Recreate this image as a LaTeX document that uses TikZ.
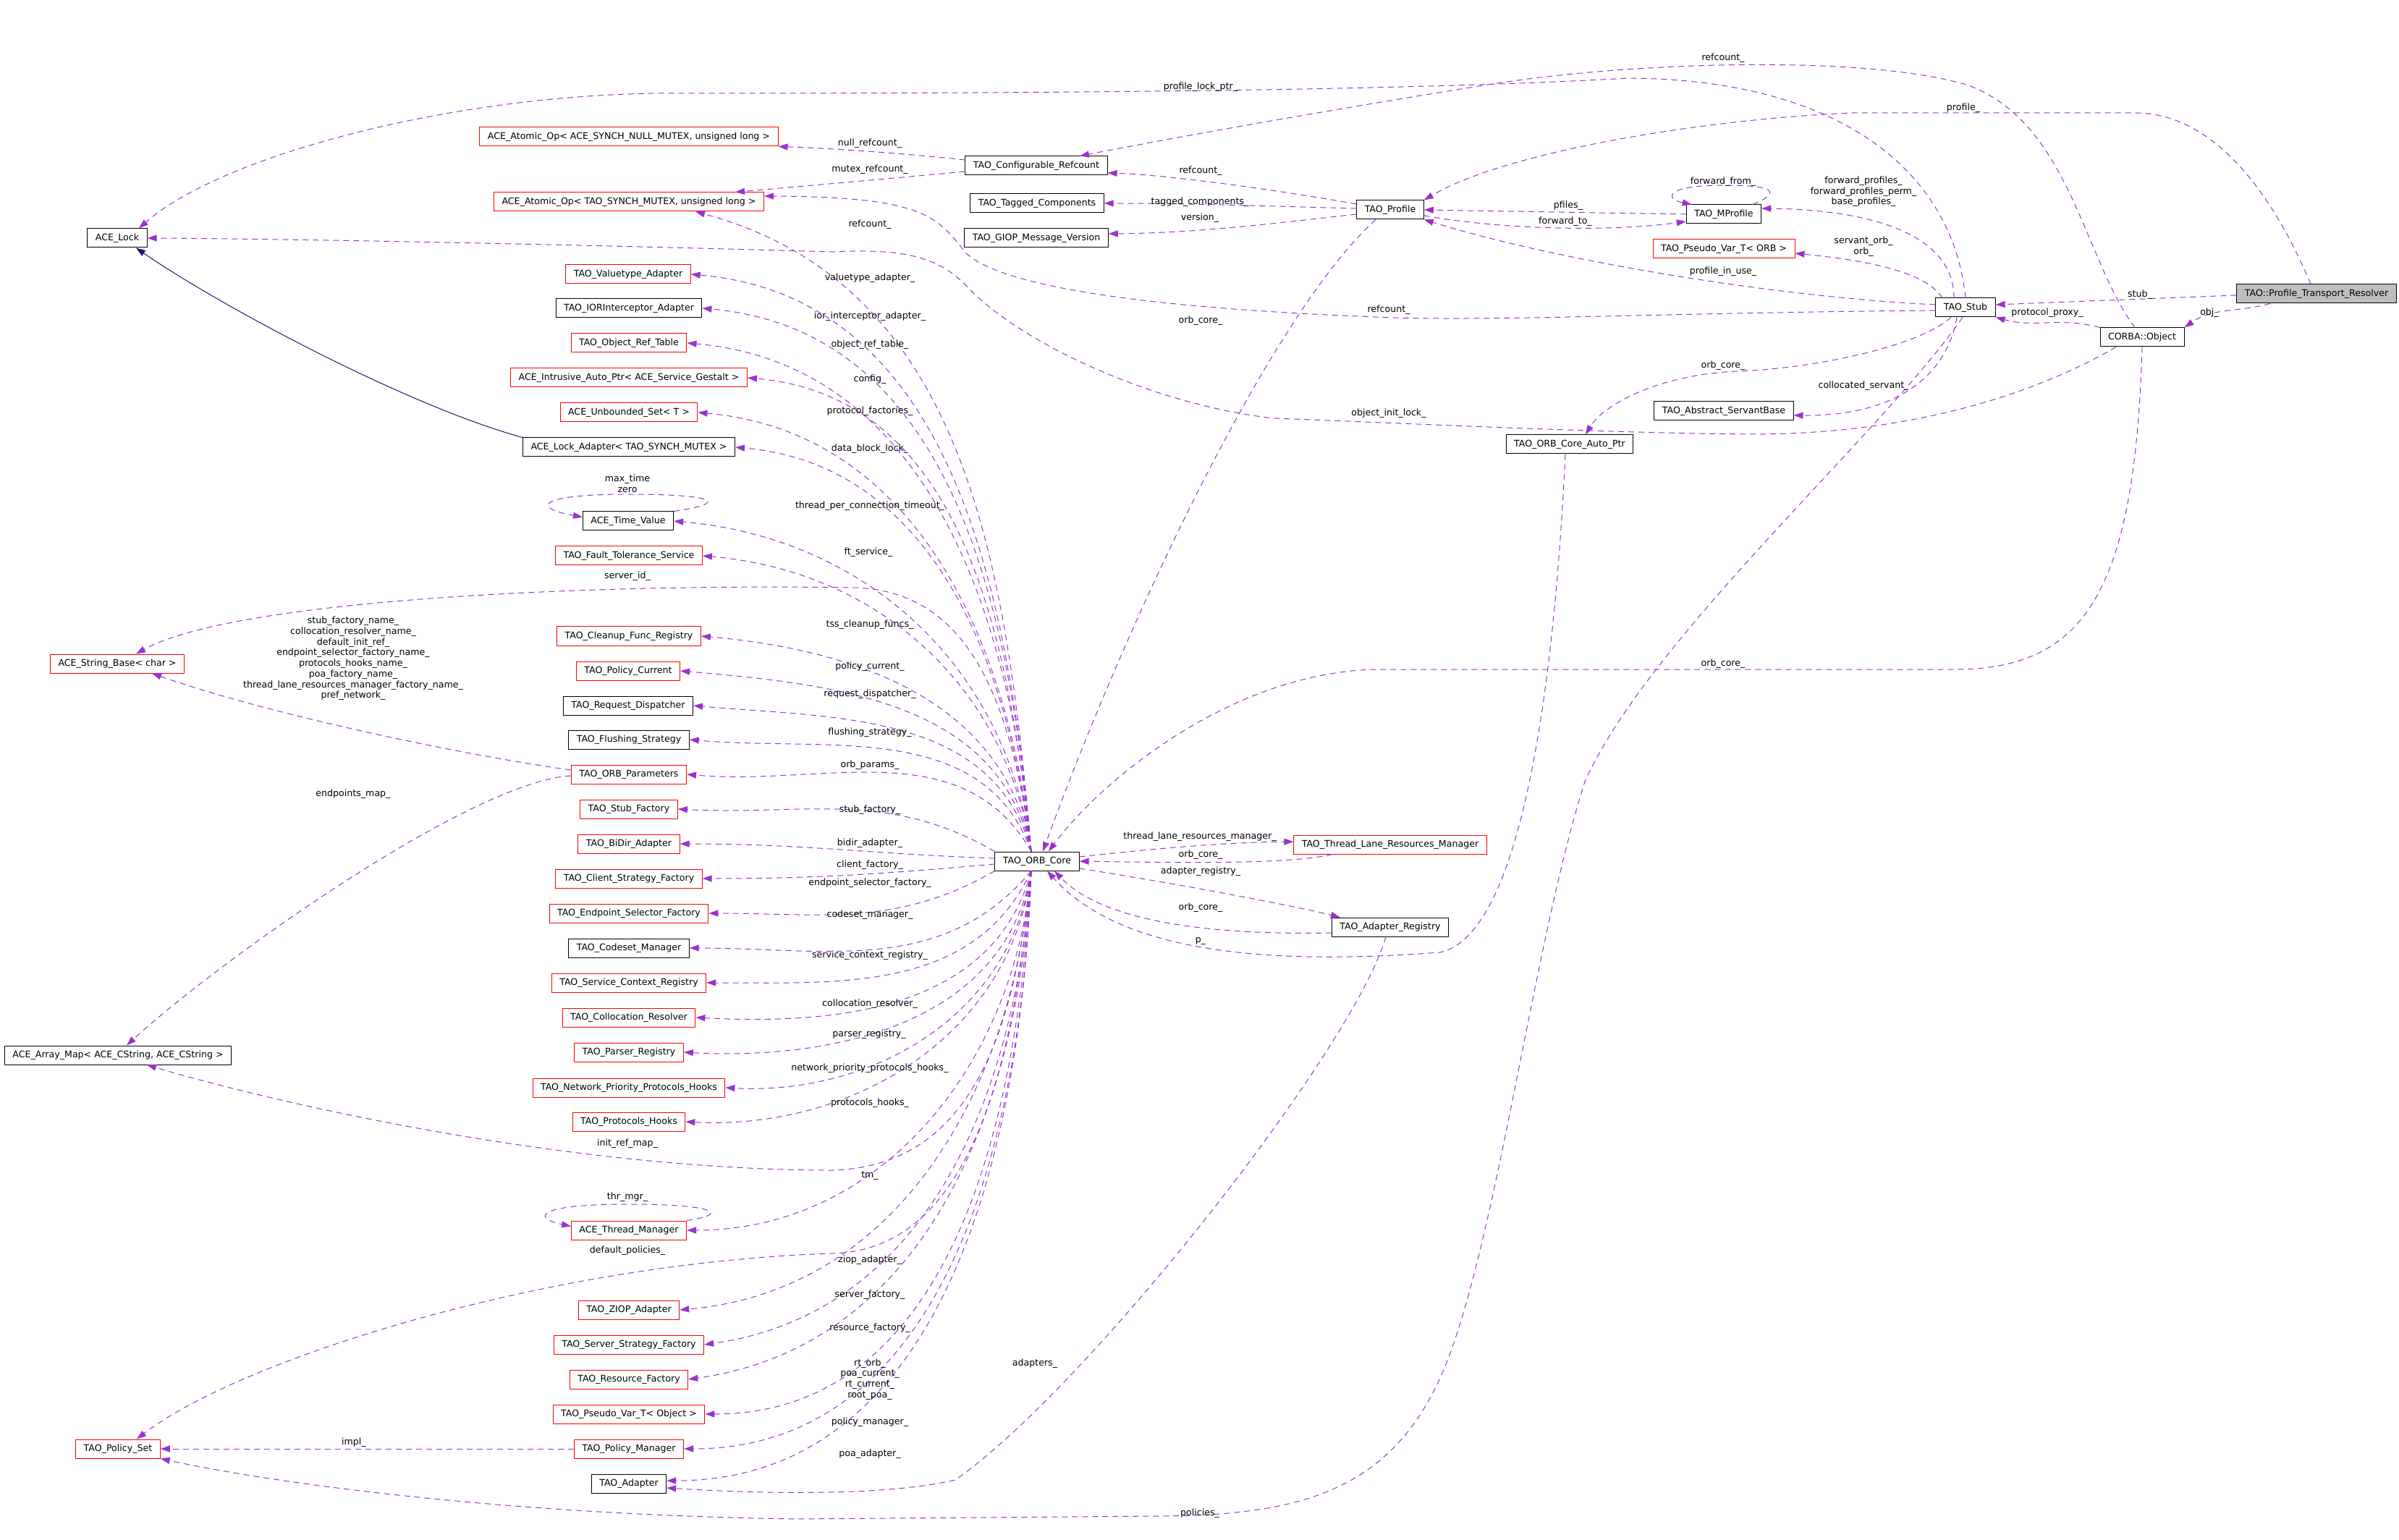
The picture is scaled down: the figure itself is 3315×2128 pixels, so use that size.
\documentclass[tikz,border=0pt]{standalone}
\usepackage{fontspec}
\setmainfont{DejaVu Sans}
\usetikzlibrary{
  arrows.meta
}
\usepackage{xcolor}
\definecolor{edgePurple}{rgb}{0.604,0.196,0.804}
\definecolor{inheritBlue}{rgb}{0.098,0.098,0.439}
\definecolor{boxRed}{rgb}{1,0,0}
\definecolor{mainGray}{rgb}{0.75,0.75,0.75}
\newcommand{\dxfont}{\fontsize{6.3}{7.35}\selectfont}
\newcommand{\dxNode}[4]{\node[#1] (#2) at (#3) {#4};}
\newcommand{\dxLabel}[3]{\node[lbl] (#1) at (#2) {#3};}
\tikzset{
  cls/.style={
    draw=black,
    fill=white,
    line width=0.5pt,
    font=\dxfont,
    inner xsep=5.5pt,
    inner ysep=0pt,
    minimum height=13pt
  },
  clsred/.style={cls, draw=boxRed},
  clsmain/.style={cls, fill=mainGray},
  member/.style={
    draw=edgePurple,
    line width=0.5pt,
    dash pattern=on 4pt off 3pt,
    -{Triangle[length=6.5pt,width=4.5pt,fill=edgePurple]}
  },
  inherit/.style={
    draw=inheritBlue,
    line width=0.5pt,
    -{Triangle[length=6.5pt,width=4.5pt,fill=inheritBlue]}
  },
  lbl/.style={font=\dxfont, inner sep=0pt, align=center}
}

\begin{document}
\begin{tikzpicture}[
    x=0.5pt,
    y=0.5pt
  ]
  \useasboundingbox (0,0) rectangle (3315,-2128);

  % classes, left column
  \dxNode{cls}{lock}{162,-329}{ACE\_Lock}
  \dxNode{clsred}{atomicnull}{869,-189}{ACE\_Atomic\_Op< ACE\_SYNCH\_NULL\_MUTEX, unsigned long >}
  \dxNode{clsred}{atomicmutex}{869,-279}{ACE\_Atomic\_Op< TAO\_SYNCH\_MUTEX, unsigned long >}
  \dxNode{clsred}{valuetype}{868,-379}{TAO\_Valuetype\_Adapter}
  \dxNode{cls}{iorint}{869,-426}{TAO\_IORInterceptor\_Adapter}
  \dxNode{clsred}{objref}{869,-474}{TAO\_Object\_Ref\_Table}
  \dxNode{clsred}{intrusive}{869,-522}{ACE\_Intrusive\_Auto\_Ptr< ACE\_Service\_Gestalt >}
  \dxNode{clsred}{unbounded}{869,-570}{ACE\_Unbounded\_Set< T >}
  \dxNode{cls}{lockadapter}{869,-618}{ACE\_Lock\_Adapter< TAO\_SYNCH\_MUTEX >}
  \dxNode{cls}{timevalue}{868,-720}{ACE\_Time\_Value}
  \dxNode{clsred}{ftservice}{869,-768}{TAO\_Fault\_Tolerance\_Service}
  \dxNode{clsred}{cleanup}{869,-879}{TAO\_Cleanup\_Func\_Registry}
  \dxNode{clsred}{policycur}{868,-927}{TAO\_Policy\_Current}
  \dxNode{cls}{reqdisp}{868,-975}{TAO\_Request\_Dispatcher}
  \dxNode{cls}{flushing}{869,-1022}{TAO\_Flushing\_Strategy}
  \dxNode{clsred}{orbparams}{869,-1070}{TAO\_ORB\_Parameters}
  \dxNode{clsred}{stubfact}{869,-1118}{TAO\_Stub\_Factory}
  \dxNode{clsred}{bidir}{869,-1166}{TAO\_BiDir\_Adapter}
  \dxNode{clsred}{clientfact}{869,-1214}{TAO\_Client\_Strategy\_Factory}
  \dxNode{clsred}{endpointfact}{869,-1262}{TAO\_Endpoint\_Selector\_Factory}
  \dxNode{cls}{codeset}{869,-1310}{TAO\_Codeset\_Manager}
  \dxNode{clsred}{svcctx}{869,-1358}{TAO\_Service\_Context\_Registry}
  \dxNode{clsred}{colloc}{869,-1406}{TAO\_Collocation\_Resolver}
  \dxNode{clsred}{parser}{869,-1454}{TAO\_Parser\_Registry}
  \dxNode{clsred}{netprio}{869,-1503}{TAO\_Network\_Priority\_Protocols\_Hooks}
  \dxNode{clsred}{protohooks}{869,-1550}{TAO\_Protocols\_Hooks}
  \dxNode{clsred}{thrmgr}{869,-1700}{ACE\_Thread\_Manager}
  \dxNode{clsred}{ziop}{869,-1810}{TAO\_ZIOP\_Adapter}
  \dxNode{clsred}{serverfact}{869,-1858}{TAO\_Server\_Strategy\_Factory}
  \dxNode{clsred}{resfact}{869,-1906}{TAO\_Resource\_Factory}
  \dxNode{clsred}{pseudoobj}{869,-1954}{TAO\_Pseudo\_Var\_T< Object >}
  \dxNode{clsred}{policymgr}{869,-2002}{TAO\_Policy\_Manager}
  \dxNode{cls}{adapter}{869,-2050}{TAO\_Adapter}
  \dxNode{clsred}{strbase}{162,-917}{ACE\_String\_Base< char >}
  \dxNode{cls}{arraymap}{163,-1458}{ACE\_Array\_Map< ACE\_CString, ACE\_CString >}
  \dxNode{clsred}{policyset}{163,-2002}{TAO\_Policy\_Set}

  % classes, middle and right
  \dxNode{cls}{confref}{1432,-229}{TAO\_Configurable\_Refcount}
  \dxNode{cls}{tagged}{1433,-281}{TAO\_Tagged\_Components}
  \dxNode{cls}{giop}{1432,-329}{TAO\_GIOP\_Message\_Version}
  \dxNode{cls}{profile}{1921,-290}{TAO\_Profile}
  \dxNode{cls}{mprofile}{2382,-296}{TAO\_MProfile}
  \dxNode{clsred}{pseudoorb}{2382,-344}{TAO\_Pseudo\_Var\_T< ORB >}
  \dxNode{cls}{stub}{2716,-425}{TAO\_Stub}
  \dxNode{clsmain}{resolver}{3201,-406}{TAO::Profile\_Transport\_Resolver}
  \dxNode{cls}{object}{2960,-466}{CORBA::Object}
  \dxNode{cls}{servant}{2382,-568}{TAO\_Abstract\_ServantBase}
  \dxNode{cls}{autoptr}{2169,-614}{TAO\_ORB\_Core\_Auto\_Ptr}
  \dxNode{cls}{core}{1433,-1190}{TAO\_ORB\_Core}
  \dxNode{clsred}{tlrm}{1921,-1167}{TAO\_Thread\_Lane\_Resources\_Manager}
  \dxNode{cls}{adreg}{1921,-1281}{TAO\_Adapter\_Registry}

  % ORB core members, upper fan
  \foreach \t/\o in {valuetype/95, iorint/95, objref/95, intrusive/96,
      unbounded/96, lockadapter/97, timevalue/98, ftservice/99, cleanup/100,
      policycur/102, reqdisp/105, flushing/110, orbparams/120}
    \draw[member] ([xshift=-4pt]core.north) to[out=\o,in=-5] (\t.east);
  \draw[member] ([xshift=-4pt]core.north) to[out=95,in=-15] ([xshift=46pt]atomicmutex.south);
  \draw[member] (core.north west) to[out=150,in=-3] (stubfact.east);
  \draw[member] ([yshift=2pt]core.west) to[out=178,in=0] (bidir.east);
  \draw[member] ([yshift=-2pt]core.west) to[out=185,in=0] (clientfact.east);
  \draw[member] (core.south west) to[out=210,in=0] (endpointfact.east);
  \draw[member] ([xshift=-4pt]core.north) .. controls (1395,-950) and (1330,-816) .. (1180,-812)
    .. controls (800,-806) and (320,-830) .. ([xshift=13pt]strbase.north);

  % ORB core members, lower fan
  \foreach \t/\o/\i in {codeset/-130/0, svcctx/-115/0, colloc/-105/-3,
      parser/-100/-3, netprio/-98/-3, protohooks/-97/-3, thrmgr/-95/0,
      ziop/-95/5, serverfact/-94/8, resfact/-93/8, pseudoobj/-93/0,
      policymgr/-92/0}
    \draw[member] ([xshift=-4pt]core.south) to[out=\o,in=\i] (\t.east);
  \draw[member] ([xshift=-4pt]core.south) to[out=-92,in=0] ([yshift=2pt]adapter.east);
  \draw[member] ([xshift=-4pt]core.south) .. controls (1400,-1450) and (1330,-1612) .. (1150,-1617)
    .. controls (800,-1617) and (400,-1530) .. ([xshift=20pt]arraymap.south);
  \draw[member] ([xshift=-4pt]core.south) .. controls (1400,-1500) and (1330,-1728) .. (1150,-1732)
    .. controls (750,-1745) and (330,-1880) .. ([xshift=13pt]policyset.north);

  % self references
  \draw[member] (timevalue.north east) .. controls (1010,-695) and (990,-683) .. (868,-683)
    .. controls (740,-683) and (735,-702) .. ([yshift=-4pt]timevalue.north west);
  \draw[member] (thrmgr.north east) .. controls (1010,-1678) and (990,-1664) .. (868,-1664)
    .. controls (740,-1664) and (735,-1683) .. ([yshift=-4pt]thrmgr.north west);
  \draw[member] ([xshift=-6pt]mprofile.north east) .. controls (2470,-262) and (2440,-256) .. (2381,-256)
    .. controls (2300,-256) and (2300,-275) .. ([xshift=4pt]mprofile.north west);

  % left side
  \draw[inherit] (lockadapter.north west) .. controls (560,-560) and (300,-420) .. ([xshift=13pt]lock.south);
  \draw[member] ([yshift=3pt]orbparams.west) .. controls (650,-1045) and (380,-990) .. ([xshift=24pt]strbase.south);
  \draw[member] ([yshift=-1pt]orbparams.west) .. controls (650,-1080) and (300,-1330) .. ([xshift=6pt]arraymap.north);
  \draw[member] (policymgr.west) -- (policyset.east);
  \draw[member] ([yshift=4pt]confref.west) .. controls (1250,-212) and (1150,-205) .. (atomicnull.south east);
  \draw[member] ([yshift=-4pt]confref.west) .. controls (1250,-245) and (1100,-258) .. ([xshift=-20pt]atomicmutex.north east);

  % profiles
  \draw[member] ([yshift=4pt]profile.west) .. controls (1780,-265) and (1620,-242) .. ([yshift=-5pt]confref.east);
  \draw[member] ([yshift=1pt]profile.west) .. controls (1750,-285) and (1650,-281) .. (tagged.east);
  \draw[member] ([yshift=-3pt]profile.west) .. controls (1750,-310) and (1650,-322) .. ([yshift=3pt]giop.east);
  \draw[member] (mprofile.west) -- (profile.east);
  \draw[member] ([yshift=-4pt]profile.east) .. controls (2080,-318) and (2230,-320) .. ([yshift=-5pt]mprofile.west);
  \draw[member] ([xshift=-10pt]profile.south) .. controls (1760,-430) and (1560,-850) .. ([xshift=4pt]core.north);

  % stub
  \draw[member] (stub.north) .. controls (2700,-250) and (2560,-110) .. (2250,-108)
    .. controls (1900,-128) and (1300,-129) .. (900,-129)
    .. controls (600,-135) and (300,-220) .. ([xshift=15pt]lock.north);
  \draw[member] ([xshift=-8pt]stub.north) .. controls (2700,-330) and (2600,-290) .. ([yshift=4pt]mprofile.east);
  \draw[member] ([xshift=-16pt]stub.north) .. controls (2660,-375) and (2580,-360) .. ([yshift=-3pt]pseudoorb.east);
  \draw[member] ([yshift=2pt]stub.west) .. controls (2450,-410) and (2150,-360) .. (profile.south east);
  \draw[member] ([yshift=-2pt]stub.west) .. controls (2300,-432) and (2050,-445) .. (1900,-438)
    .. controls (1700,-430) and (1400,-410) .. (1335,-350)
    .. controls (1295,-300) and (1280,-272) .. ([yshift=4pt]atomicmutex.east);
  \draw[member] ([xshift=-10pt]stub.south) .. controls (2650,-480) and (2500,-510) .. (2400,-513)
    .. controls (2290,-518) and (2215,-560) .. ([xshift=11pt]autoptr.north);
  \draw[member] ([xshift=-6pt]stub.south) .. controls (2690,-520) and (2620,-575) .. ([yshift=-3pt]servant.east);
  \draw[member] ([xshift=-2pt]stub.south) .. controls (2600,-600) and (2280,-880) .. (2190,-1080)
    .. controls (2120,-1300) and (2070,-1700) .. (2000,-1880)
    .. controls (1930,-2060) and (1800,-2094) .. (1600,-2095) -- (1100,-2099)
    .. controls (700,-2093) and (380,-2050) .. (policyset.south east);

  % resolver and object
  \draw[member] ([xshift=-4pt]resolver.north) .. controls (3150,-290) and (3070,-156) .. (2950,-156) -- (2560,-156)
    .. controls (2350,-165) and (2080,-210) .. (profile.north east);
  \draw[member] ([yshift=-1pt]resolver.west) -- ([yshift=2pt]stub.east);
  \draw[member] ([xshift=-32pt]resolver.south) to[out=195,in=35] (object.north east);
  \draw[member] (object.north west) to[out=165,in=-15] (stub.south east);
  \draw[member] ([xshift=-5pt]object.north) .. controls (2880,-360) and (2860,-170) .. (2720,-118)
    .. controls (2580,-75) and (2250,-85) .. (2050,-118)
    .. controls (1850,-150) and (1650,-185) .. ([xshift=30pt]confref.north);
  \draw[member] ([xshift=-18pt]object.south) .. controls (2820,-540) and (2650,-600) .. (2420,-600)
    .. controls (2200,-598) and (1950,-585) .. (1760,-578)
    .. controls (1600,-560) and (1420,-480) .. (1340,-400)
    .. controls (1300,-355) and (1250,-343) .. (1150,-348)
    .. controls (800,-338) and (400,-330) .. (lock.east);
  \draw[member] (object.south) .. controls (2950,-820) and (2880,-925) .. (2700,-925) -- (1900,-925)
    .. controls (1700,-930) and (1520,-1080) .. ([xshift=8pt]core.north);

  % around the ORB core
  \draw[member] ([yshift=3pt]core.east) .. controls (1620,-1170) and (1700,-1164) .. ([yshift=2pt]tlrm.west);
  \draw[member] ([xshift=-40pt]tlrm.south) .. controls (1780,-1195) and (1620,-1192) .. (core.east);
  \draw[member] ([yshift=-5pt]core.east) .. controls (1620,-1220) and (1780,-1250) .. ([xshift=6pt]adreg.north west);
  \draw[member] ([yshift=-4pt]adreg.west) .. controls (1700,-1292) and (1530,-1280) .. ([xshift=12pt]core.south);
  \draw[member] ([xshift=-3pt]autoptr.south) .. controls (2150,-900) and (2110,-1290) .. (1990,-1316)
    .. controls (1800,-1330) and (1560,-1330) .. ([xshift=7pt]core.south);
  \draw[member] ([xshift=-3pt]adreg.south) .. controls (1870,-1450) and (1500,-1920) .. (1320,-2045)
    .. controls (1220,-2068) and (1050,-2064) .. ([yshift=-3pt]adapter.east);

  % labels
  \dxLabel{lProfileLock}{1659,-120}{profile\_lock\_ptr\_}
  \dxLabel{lRefObject}{2381,-80}{refcount\_}
  \dxLabel{lNullRef}{1202,-198}{null\_refcount\_}
  \dxLabel{lMutexRef}{1202,-234}{mutex\_refcount\_}
  \dxLabel{lRefCore}{1202,-310}{refcount\_}
  \dxLabel{lRefProfile}{1659,-236}{refcount\_}
  \dxLabel{lTagged}{1658,-279}{tagged\_components\_}
  \dxLabel{lVersion}{1658,-301}{version\_}
  \dxLabel{lProfile}{2713,-149}{profile\_}
  \dxLabel{lFwdFrom}{2381,-251}{forward\_from\_}
  \dxLabel{lPfiles}{2167,-284}{pfiles\_}
  \dxLabel{lFwdTo}{2163,-306}{forward\_to\_}
  \dxLabel{lFwdProfiles}{2575,-265}{forward\_profiles\_\\forward\_profiles\_perm\_\\base\_profiles\_}
  \dxLabel{lServantOrb}{2575,-341}{servant\_orb\_\\orb\_}
  \dxLabel{lInUse}{2381,-375}{profile\_in\_use\_}
  \dxLabel{lRefStub}{1919,-428}{refcount\_}
  \dxLabel{lCoreProfile}{1659,-443}{orb\_core\_}
  \dxLabel{lStub}{2957,-407}{stub\_}
  \dxLabel{lObj}{3053,-432}{obj\_}
  \dxLabel{lProxy}{2829,-432}{protocol\_proxy\_}
  \dxLabel{lCoreStub}{2381,-505}{orb\_core\_}
  \dxLabel{lServant}{2575,-533}{collocated\_servant\_}
  \dxLabel{lInitLock}{1919,-571}{object\_init\_lock\_}
  \dxLabel{lCoreObject}{2381,-917}{orb\_core\_}
  \dxLabel{lValuetype}{1202,-384}{valuetype\_adapter\_}
  \dxLabel{lIor}{1202,-437}{ior\_interceptor\_adapter\_}
  \dxLabel{lObjRef}{1202,-476}{object\_ref\_table\_}
  \dxLabel{lConfig}{1202,-524}{config\_}
  \dxLabel{lProtoFact}{1202,-568}{protocol\_factories\_}
  \dxLabel{lDataLock}{1202,-620}{data\_block\_lock\_}
  \dxLabel{lTimeout}{1202,-699}{thread\_per\_connection\_timeout\_}
  \dxLabel{lMaxTime}{867,-668}{max\_time\\zero}
  \dxLabel{lFt}{1200,-763}{ft\_service\_}
  \dxLabel{lServerId}{867,-796}{server\_id\_}
  \dxLabel{lTss}{1202,-863}{tss\_cleanup\_funcs\_}
  \dxLabel{lPolicyCur}{1202,-921}{policy\_current\_}
  \dxLabel{lReqDisp}{1202,-959}{request\_dispatcher\_}
  \dxLabel{lFlushing}{1202,-1012}{flushing\_strategy\_}
  \dxLabel{lOrbParams}{1202,-1057}{orb\_params\_}
  \dxLabel{lStubFact}{1202,-1119}{stub\_factory\_}
  \dxLabel{lBidir}{1202,-1165}{bidir\_adapter\_}
  \dxLabel{lClientFact}{1202,-1195}{client\_factory\_}
  \dxLabel{lEndpoint}{1202,-1220}{endpoint\_selector\_factory\_}
  \dxLabel{lCodeset}{1202,-1264}{codeset\_manager\_}
  \dxLabel{lSvcCtx}{1202,-1320}{service\_context\_registry\_}
  \dxLabel{lColloc}{1202,-1387}{collocation\_resolver\_}
  \dxLabel{lParser}{1201,-1429}{parser\_registry\_}
  \dxLabel{lNetPrio}{1202,-1476}{network\_priority\_protocols\_hooks\_}
  \dxLabel{lProtoHooks}{1202,-1524}{protocols\_hooks\_}
  \dxLabel{lInitRef}{867,-1580}{init\_ref\_map\_}
  \dxLabel{lThrMgr}{867,-1654}{thr\_mgr\_}
  \dxLabel{lTm}{1202,-1625}{tm\_}
  \dxLabel{lDefPol}{867,-1728}{default\_policies\_}
  \dxLabel{lZiop}{1202,-1741}{ziop\_adapter\_}
  \dxLabel{lServerFact}{1202,-1789}{server\_factory\_}
  \dxLabel{lResFact}{1202,-1835}{resource\_factory\_}
  \dxLabel{lRtOrb}{1202,-1906}{rt\_orb\_\\poa\_current\_\\rt\_current\_\\root\_poa\_}
  \dxLabel{lPolicyMgr}{1202,-1965}{policy\_manager\_}
  \dxLabel{lPoaAdapter}{1202,-2009}{poa\_adapter\_}
  \dxLabel{lAdapters}{1430,-1884}{adapters\_}
  \dxLabel{lPolicies}{1658,-2091}{policies\_}
  \dxLabel{lImpl}{489,-1993}{impl\_}
  \dxLabel{lNames}{488,-910}{stub\_factory\_name\_\\collocation\_resolver\_name\_\\default\_init\_ref\_\\endpoint\_selector\_factory\_name\_\\protocols\_hooks\_name\_\\poa\_factory\_name\_\\thread\_lane\_resources\_manager\_factory\_name\_\\pref\_network\_}
  \dxLabel{lEndpoints}{488,-1097}{endpoints\_map\_}
  \dxLabel{lTlrm}{1658,-1156}{thread\_lane\_resources\_manager\_}
  \dxLabel{lCoreTlrm}{1659,-1181}{orb\_core\_}
  \dxLabel{lAdReg}{1659,-1204}{adapter\_registry\_}
  \dxLabel{lCoreAdReg}{1659,-1254}{orb\_core\_}
  \dxLabel{lP}{1659,-1300}{p\_}
\end{tikzpicture}
\end{document}
